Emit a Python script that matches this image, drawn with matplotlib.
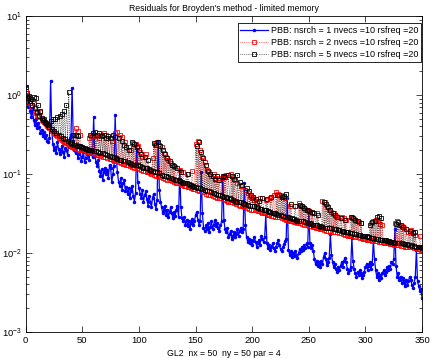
import numpy as np
import matplotlib
matplotlib.use("Agg")
import matplotlib.pyplot as plt
from matplotlib.ticker import LogLocator, NullFormatter

# log10 of the residual norm, one value per iteration 0..350
res_nsrch1 = [
    0.11, -0.05, -0.15, -0.02, -0.20, -0.28, -0.18, -0.32, -0.38, -0.30,
    -0.42, -0.35, -0.40, -0.48, -0.44, -0.52, -0.47, -0.55, -0.50, -0.58,
    -0.60, -0.55, 0.18, -0.45, -0.62, -0.70, -0.66, -0.73, -0.60, -0.68,
    -0.75, -0.71, -0.64, -0.72, -0.78, -0.67, -0.70, -0.76, -0.62, -0.55,
    -0.50, 0.09, -0.58, -0.70, -0.74, -0.62, -0.80, -0.75, -0.68, -0.83,
    -0.78, -0.72, -0.85, -0.80, -0.70, -0.76, -0.82, -0.68, -0.74, -0.79,
    -0.28, -0.72, -0.85, -0.90, -0.82, -0.96, -1.02, -0.94, -1.08, -0.98,
    -0.92, -1.00, -0.95, -1.05, -0.88, -0.93, -1.10, -1.00, -0.90, -0.25,
    -0.80, -0.98, -1.10, -1.15, -1.05, -1.20, -1.12, -1.08, -1.22, -1.16,
    -1.25, -1.18, -1.30, -1.22, -1.15, -1.28, -1.35, -1.24, -0.62, -1.10,
    -1.18, -1.25, -1.30, -1.20, -1.35, -1.27, -1.22, -1.32, -1.40, -1.28,
    -1.35, -1.42, -1.30, -1.25, -1.38, -1.44, -1.33, -0.58, -1.20, -1.35,
    -1.42, -1.50, -1.46, -1.40, -1.52, -1.45, -1.55, -1.48, -1.42, -1.50,
    -1.56, -1.48, -1.53, -1.45, -1.40, -1.55, -0.95, -1.42, -1.56, -1.60,
    -1.55, -1.64, -1.58, -1.66, -1.60, -1.70, -1.62, -1.57, -1.65, -1.60,
    -1.52, -1.48, -1.58, -1.64, -1.60, -0.97, -1.50, -1.68, -1.72, -1.65,
    -1.70, -1.62, -1.74, -1.67, -1.60, -1.70, -1.64, -1.58, -1.66, -1.62,
    -1.68, -1.72, -1.65, -1.60, -1.01, -1.58, -1.70, -1.74, -1.68, -1.80,
    -1.76, -1.72, -1.82, -1.78, -1.74, -1.80, -1.76, -1.70, -1.78, -1.72,
    -1.68, -1.74, -1.70, -1.11, -1.65, -1.80, -1.86, -1.82, -1.88, -1.84,
    -1.90, -1.85, -1.80, -1.86, -1.92, -1.88, -1.84, -1.90, -1.78, -1.82,
    -1.86, -1.80, -1.52, -1.88, -1.94, -1.90, -1.96, -1.92, -1.88, -1.94,
    -1.98, -1.92, -1.88, -1.84, -1.90, -1.95, -1.98, -1.93, -1.89, -1.85,
    -1.82, -1.30, -1.96, -2.02, -1.98, -2.05, -2.00, -2.04, -1.98, -2.02,
    -2.06, -2.00, -1.95, -1.98, -1.92, -1.96, -1.90, -1.94, -1.88, -1.92,
    -1.46, -1.88, -1.94, -1.90, -1.98, -2.08, -2.14, -2.10, -2.16, -2.12,
    -2.18, -2.10, -2.14, -2.05, -2.00, -2.08, -2.15, -2.12, -2.06, -1.76,
    -2.02, -2.12, -2.18, -2.14, -2.20, -2.24, -2.18, -2.22, -2.16, -2.12,
    -2.18, -2.10, -2.06, -2.12, -2.20, -2.26, -2.22, -2.18, -1.81, -2.10,
    -2.20, -2.26, -2.30, -2.24, -2.28, -2.22, -2.26, -2.32, -2.28, -2.24,
    -2.18, -2.14, -2.22, -2.16, -2.12, -2.20, -2.14, -1.84, -2.08, -2.22,
    -2.30, -2.26, -2.34, -2.28, -2.32, -2.26, -2.22, -2.28, -2.24, -2.18,
    -2.22, -2.16, -2.20, -2.12, -2.14, -2.08, -1.70, -2.16, -2.30, -2.26,
    -2.34, -2.30, -2.38, -2.32, -2.36, -2.42, -2.34, -2.40, -2.36, -2.30,
    -2.34, -2.40, -2.44, -2.38, -2.30, -1.96, -2.36, -2.42, -2.48, -2.46,
    -2.57,
]

res_nsrch2 = [
    0.05, 0.00, -0.04, -0.07, -0.10, -0.12, -0.15, -0.10, -0.20, -0.23,
    -0.25, -0.27, -0.28, -0.22, -0.31, -0.33, -0.34, -0.36, -0.37, -0.39,
    -0.40, -0.42, -0.43, -0.45, -0.46, -0.48, -0.49, -0.51, -0.52, -0.54,
    -0.55, -0.56, -0.57, -0.58, -0.59, -0.60, -0.61, -0.62, -0.63, -0.64,
    -0.65, -0.66, -0.66, -0.67, -0.42, -0.68, -0.45, -0.69, -0.50, -0.70,
    -0.70, -0.70, -0.71, -0.71, -0.72, -0.72, -0.55, -0.73, -0.52, -0.74,
    -0.50, -0.75, -0.52, -0.76, -0.76, -0.55, -0.77, -0.50, -0.78, -0.48,
    -0.79, -0.50, -0.80, -0.55, -0.81, -0.81, -0.58, -0.82, -0.83, -0.48,
    -0.84, -0.47, -0.85, -0.50, -0.86, -0.53, -0.87, -0.87, -0.60, -0.88,
    -0.89, -0.66, -0.90, -0.70, -0.91, -0.61, -0.92, -0.62, -0.93, -0.64,
    -0.94, -0.72, -0.95, -0.78, -0.96, -0.96, -0.75, -0.97, -0.98, -0.98,
    -0.99, -1.00, -0.80, -1.01, -0.62, -1.02, -0.60, -1.03, -0.63, -1.04,
    -0.66, -1.05, -0.73, -1.06, -0.78, -1.07, -0.82, -1.08, -0.86, -1.09,
    -0.88, -1.10, -0.91, -1.11, -1.12, -1.12, -0.95, -1.13, -1.14, -0.98,
    -1.15, -1.15, -1.00, -1.16, -1.17, -1.17, -1.18, -0.96, -1.19, -1.19,
    -0.62, -1.20, -0.58, -1.21, -0.70, -1.22, -0.78, -1.23, -0.85, -1.25,
    -0.95, -1.26, -0.98, -1.27, -1.02, -1.28, -1.00, -1.29, -1.05, -1.30,
    -1.08, -1.31, -1.31, -1.05, -1.32, -1.03, -1.33, -1.01, -1.34, -1.35,
    -1.35, -1.00, -1.36, -1.04, -1.37, -1.08, -1.38, -1.12, -1.39, -1.40,
    -1.15, -1.41, -1.41, -1.42, -1.20, -1.43, -1.24, -1.44, -1.28, -1.45,
    -1.30, -1.45, -1.33, -1.46, -1.35, -1.47, -1.47, -1.30, -1.48, -1.49,
    -1.49, -1.50, -1.33, -1.51, -1.52, -1.52, -1.30, -1.53, -1.53, -1.26,
    -1.54, -1.23, -1.55, -1.25, -1.55, -1.27, -1.56, -1.29, -1.57, -1.30,
    -1.58, -1.58, -1.59, -1.40, -1.59, -1.60, -1.60, -1.61, -1.61, -1.61,
    -1.62, -1.37, -1.62, -1.40, -1.63, -1.42, -1.64, -1.44, -1.64, -1.46,
    -1.66, -1.48, -1.66, -1.49, -1.67, -1.67, -1.68, -1.50, -1.69, -1.69,
    -1.70, -1.70, -1.34, -1.71, -1.36, -1.72, -1.40, -1.72, -1.45, -1.73,
    -1.48, -1.73, -1.50, -1.74, -1.53, -1.74, -1.55, -1.75, -1.75, -1.55,
    -1.76, -1.56, -1.77, -1.58, -1.77, -1.78, -1.78, -1.79, -1.55, -1.79,
    -1.57, -1.80, -1.59, -1.80, -1.61, -1.81, -1.62, -1.81, -1.82, -1.82,
    -1.82, -1.83, -1.83, -1.84, -1.84, -1.62, -1.85, -1.60, -1.85, -1.58,
    -1.85, -1.60, -1.86, -1.63, -1.86, -1.65, -1.87, -1.87, -1.87, -1.88,
    -1.88, -1.88, -1.89, -1.89, -1.89, -1.90, -1.62, -1.90, -1.60, -1.90,
    -1.64, -1.91, -1.66, -1.91, -1.68, -1.92, -1.92, -1.92, -1.73, -1.93,
    -1.71, -1.93, -1.74, -1.94, -1.77, -1.94, -1.95, -1.95, -1.78, -1.96,
    -1.96,
]

res_nsrch5 = [
    0.10, 0.02, -0.04, -0.01, -0.08, -0.05, -0.12, -0.03, -0.17, -0.04,
    -0.22, -0.12, -0.26, -0.20, -0.29, -0.31, -0.30, -0.34, -0.35, -0.37,
    -0.38, -0.40, -0.33, -0.43, -0.30, -0.45, -0.30, -0.48, -0.28, -0.50,
    -0.27, -0.52, -0.24, -0.54, -0.20, -0.56, -0.12, -0.58, 0.04, -0.60,
    -0.61, -0.62, -0.50, -0.63, -0.51, -0.64, -0.52, -0.65, -0.65, -0.66,
    -0.66, -0.67, -0.67, -0.68, -0.68, -0.69, -0.69, -0.50, -0.70, -0.48,
    -0.71, -0.47, -0.71, -0.50, -0.72, -0.48, -0.73, -0.52, -0.74, -0.50,
    -0.75, -0.54, -0.76, -0.52, -0.77, -0.55, -0.78, -0.50, -0.79, -0.53,
    -0.80, -0.81, -0.55, -0.82, -0.82, -0.58, -0.83, -0.63, -0.84, -0.66,
    -0.85, -0.69, -0.86, -0.87, -0.60, -0.88, -0.62, -0.88, -0.66, -0.89,
    -0.70, -0.90, -0.75, -0.91, -0.92, -0.78, -0.93, -0.93, -0.82, -0.94,
    -0.95, -0.96, -0.96, -0.61, -0.97, -0.63, -0.98, -0.60, -0.99, -0.65,
    -1.01, -0.70, -1.02, -0.75, -1.03, -0.80, -1.04, -0.84, -1.05, -0.88,
    -1.06, -0.90, -1.07, -1.07, -0.93, -1.08, -1.09, -0.97, -1.10, -1.11,
    -1.11, -1.12, -1.12, -1.00, -1.13, -1.14, -1.14, -1.15, -1.15, -1.16,
    -1.17, -0.65, -1.18, -0.60, -1.18, -0.72, -1.19, -0.80, -1.20, -0.88,
    -1.21, -0.96, -1.22, -1.00, -1.23, -1.03, -1.24, -1.06, -1.25, -1.03,
    -1.26, -1.07, -1.27, -1.28, -1.02, -1.29, -1.04, -1.29, -1.30, -1.01,
    -1.31, -1.32, -1.03, -1.33, -1.06, -1.34, -1.35, -1.01, -1.35, -1.10,
    -1.36, -1.14, -1.37, -1.38, -1.38, -1.18, -1.39, -1.22, -1.40, -1.27,
    -1.41, -1.29, -1.41, -1.32, -1.42, -1.43, -1.34, -1.44, -1.44, -1.30,
    -1.45, -1.46, -1.46, -1.32, -1.47, -1.48, -1.48, -1.29, -1.49, -1.50,
    -1.50, -1.51, -1.26, -1.52, -1.27, -1.52, -1.29, -1.53, -1.28, -1.54,
    -1.25, -1.55, -1.55, -1.56, -1.38, -1.56, -1.57, -1.57, -1.40, -1.58,
    -1.59, -1.59, -1.39, -1.60, -1.41, -1.60, -1.43, -1.61, -1.45, -1.62,
    -1.47, -1.62, -1.63, -1.48, -1.64, -1.50, -1.64, -1.65, -1.52, -1.66,
    -1.66, -1.67, -1.67, -1.35, -1.68, -1.38, -1.68, -1.42, -1.69, -1.46,
    -1.69, -1.49, -1.70, -1.52, -1.70, -1.55, -1.71, -1.71, -1.56, -1.72,
    -1.72, -1.73, -1.58, -1.73, -1.74, -1.74, -1.75, -1.54, -1.75, -1.56,
    -1.76, -1.58, -1.76, -1.60, -1.77, -1.77, -1.62, -1.78, -1.78, -1.79,
    -1.79, -1.79, -1.80, -1.80, -1.64, -1.81, -1.61, -1.81, -1.59, -1.82,
    -1.55, -1.82, -1.53, -1.83, -1.56, -1.83, -1.84, -1.84, -1.84, -1.85,
    -1.85, -1.85, -1.86, -1.86, -1.86, -1.87, -1.87, -1.63, -1.87, -1.61,
    -1.88, -1.65, -1.88, -1.67, -1.89, -1.89, -1.70, -1.89, -1.90, -1.72,
    -1.90, -1.91, -1.75, -1.91, -1.74, -1.92, -1.92, -1.93, -1.93, -1.93,
    -1.94,
]

labels = [
    "PBB: nsrch = 1 nvecs =10 rsfreq =20",
    "PBB: nsrch = 2 nvecs =10 rsfreq =20",
    "PBB: nsrch = 5 nvecs =10 rsfreq =20",
]

plt.rcParams["font.family"] = ["Liberation Sans", "DejaVu Sans"]
plt.rcParams["font.size"] = 6.8
plt.rcParams["mathtext.fontset"] = "custom"
plt.rcParams["mathtext.rm"] = "Liberation Sans"

fig = plt.figure(figsize=(4.32, 3.58), dpi=100)
ax = fig.add_axes([0.0595, 0.073, 0.9175, 0.882])

it = np.arange(len(res_nsrch1))
ax.semilogy(it, 10.0 ** np.array(res_nsrch1), "-", color="#0000ff", lw=0.9,
            marker=".", ms=3, label=labels[0])
ax.semilogy(it, 10.0 ** np.array(res_nsrch2), ":", color="#ff0000", lw=0.5,
            marker="s", ms=2.8, mfc="none", mew=0.6, label=labels[1])
ax.semilogy(it, 10.0 ** np.array(res_nsrch5), ":", color="black", lw=0.5,
            marker="s", ms=2.8, mfc="none", mew=0.6, label=labels[2])

ax.set_xlim(0, 350)
ax.set_ylim(1e-3, 1e1)
ax.set_xticks(range(0, 351, 50))
ax.yaxis.set_major_locator(LogLocator(base=10, numticks=10))
ax.yaxis.set_minor_locator(LogLocator(base=10, subs=np.arange(2, 10), numticks=10))
ax.yaxis.set_minor_formatter(NullFormatter())
ax.tick_params(which="both", direction="in", top=True, right=True, width=0.5)
ax.tick_params(which="major", length=4, pad=3)
ax.tick_params(which="minor", length=2)
for s in ax.spines.values():
    s.set_linewidth(0.6)

ax.set_title("Residuals for Broyden's method - limited memory", fontsize=6.2, pad=4)
ax.set_xlabel("GL2  nx = 50  ny = 50 par = 4", fontsize=6.3, labelpad=3)

leg = ax.legend(loc="upper right", bbox_to_anchor=(0.998, 0.978),
                borderaxespad=0, fontsize=6.5, fancybox=False,
                edgecolor="black", framealpha=1, handlelength=3.0,
                labelspacing=0.35, borderpad=0.3, handletextpad=0.4)
leg.get_frame().set_linewidth(0.6)

fig.savefig("out.png", dpi=100)
